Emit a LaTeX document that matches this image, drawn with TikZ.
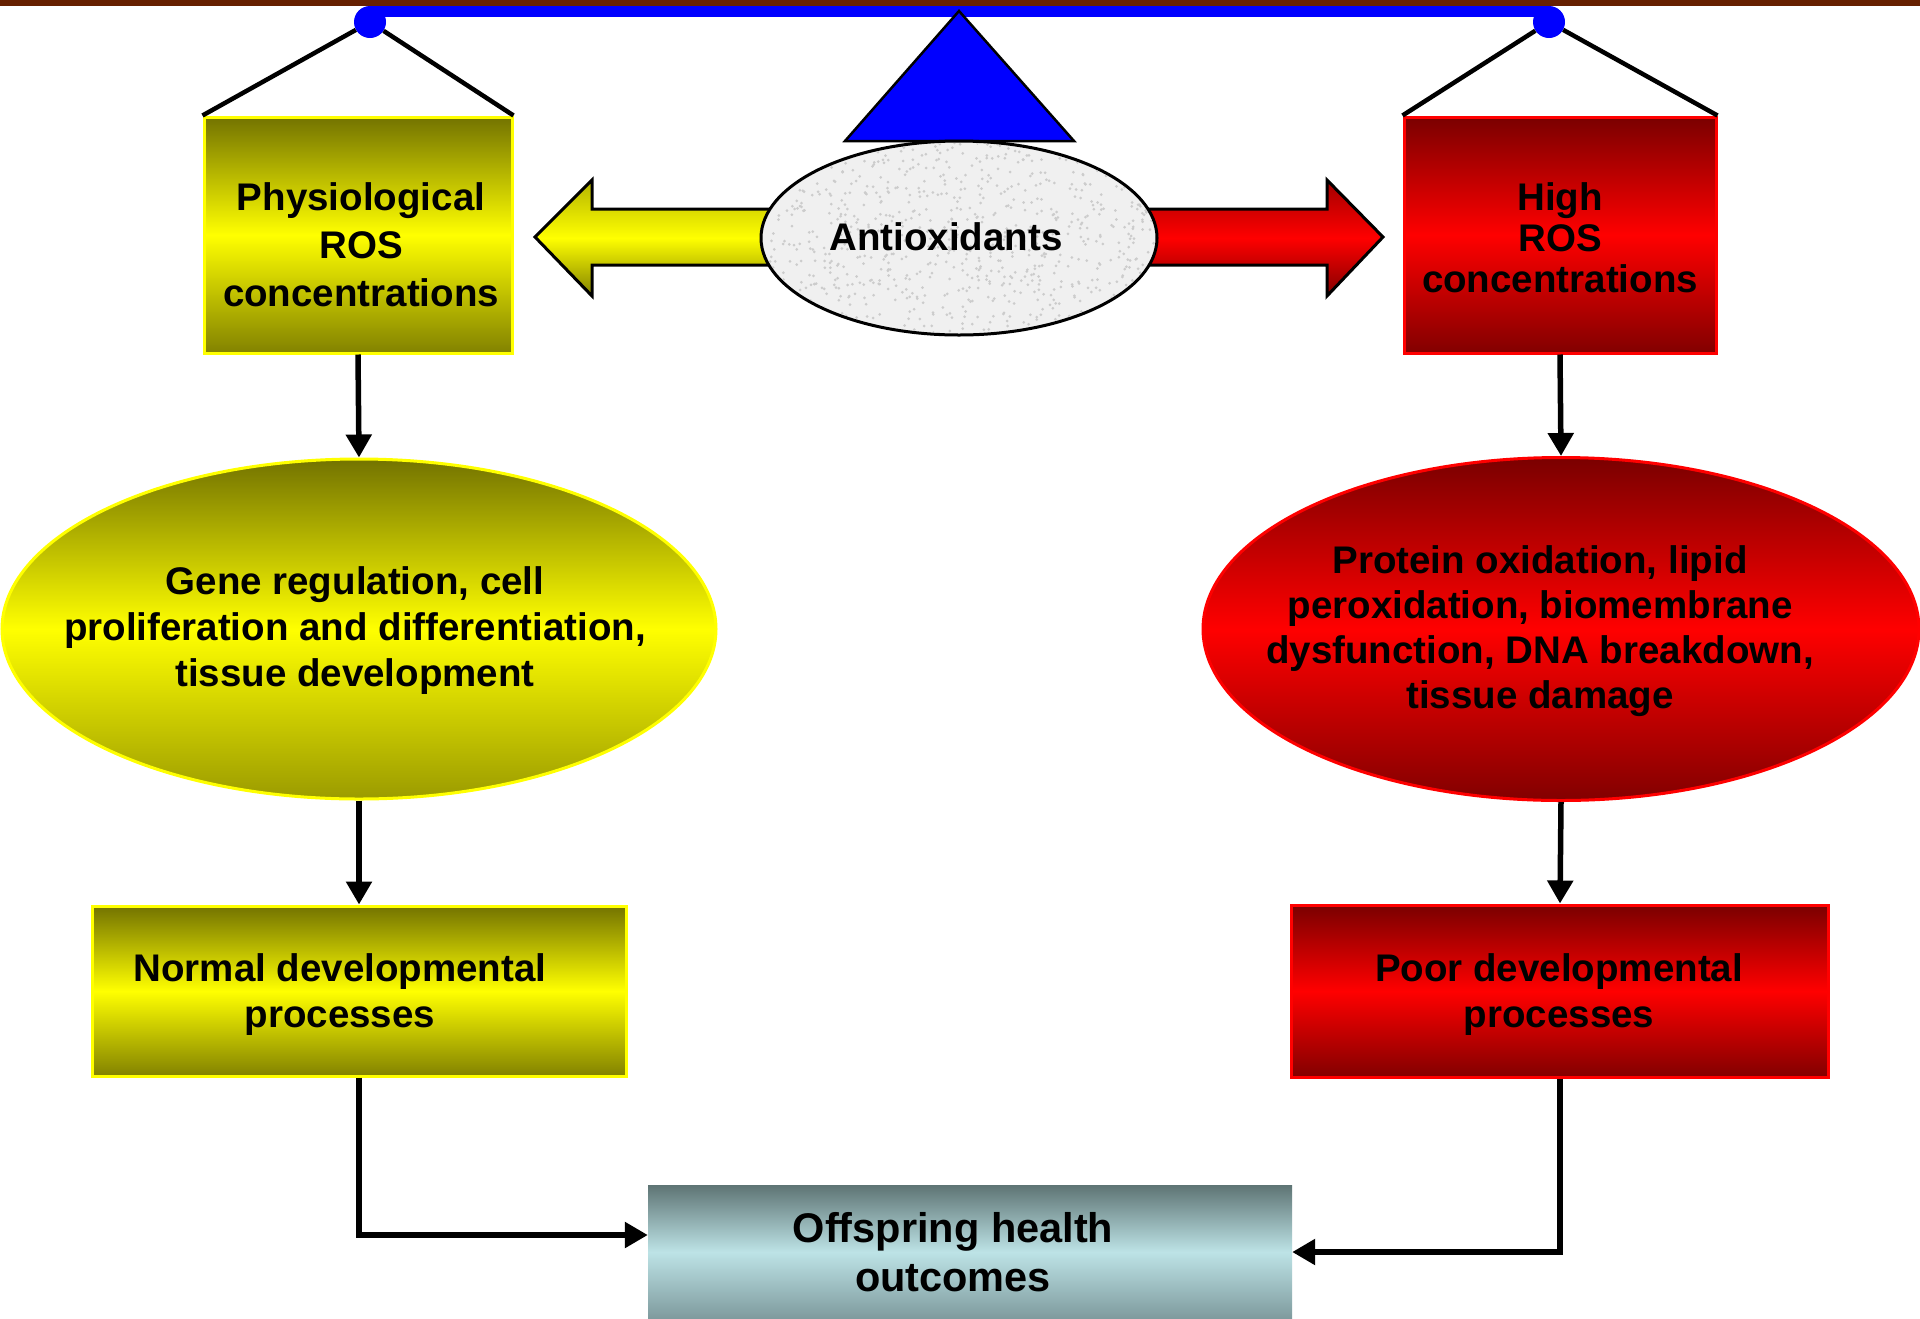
\documentclass[tikz,border=0pt]{standalone}
\usepackage{fontspec}
\setmainfont{Liberation Sans}
\usetikzlibrary{shapes.geometric,arrows.meta,calc}
\definecolor{olvtop}{HTML}{737300}
\definecolor{olvbot}{HTML}{828200}
\definecolor{ylw}{HTML}{FFFF00}
\definecolor{rdtop}{HTML}{7A0000}
\definecolor{rdbot}{HTML}{820000}
\definecolor{rd}{HTML}{FF0000}
\definecolor{tltop}{HTML}{5E7474}
\definecolor{tlmid}{HTML}{BDE3E6}
\definecolor{tlbot}{HTML}{7E9A9D}
\definecolor{brn}{HTML}{662000}
\definecolor{blu}{HTML}{0000FF}
\begin{document}
\begin{tikzpicture}[x=1pt,y=-1pt,
  lbl/.style={font=\bfseries\fontsize{38.5}{46}\selectfont, align=center, text=black, inner sep=0pt},
  ybox/.style={rectangle, draw=ylw, line width=3pt, top color=olvtop, bottom color=olvbot, middle color=ylw, inner sep=0pt},
  rbox/.style={rectangle, draw=rd, line width=3pt, top color=rdtop, bottom color=rdbot, middle color=rd, inner sep=0pt},
  yell/.style={ellipse, draw=ylw, line width=3pt, top color=olvtop, bottom color=olvbot!80!ylw, middle color=ylw, inner sep=0pt},
  rell/.style={ellipse, draw=rd, line width=3pt, top color=rdtop, bottom color=rdbot, middle color=rd, inner sep=0pt},
  conn/.style={line width=5.5pt, -{Triangle[length=23pt,width=25pt]}},
  hang/.style={line width=4.5pt, black},
  dot/.style={circle, fill=blu, minimum size=32pt, inner sep=0pt},
]
\useasboundingbox (0,0) rectangle (1920,1318);
\fill[white] (0,0) rectangle (1920,1318);
% top band
\fill[brn] (0,0) rectangle (1920,6);

% boxes
\node[ybox, minimum width=308pt, minimum height=236pt] (phys) at (358,235) {};
\node[rbox, minimum width=312pt, minimum height=236pt] (high) at (1560,235) {};

% balance
\node[dot] (dl) at (370,22) {};
\node[dot] (dr) at (1549,22) {};
\draw[blu, line width=11pt] ([yshift=10.5pt]dl.center) -- ([yshift=10.5pt]dr.center);
\draw[hang] (dl) -- (phys.north west);
\draw[hang] (dl) -- (phys.north east);
\draw[hang] (dr) -- (high.north west);
\draw[hang] (dr) -- (high.north east);
\filldraw[fill=blu, draw=black, line width=2.5pt, line join=miter] (959,11) -- (1074,141) -- (845,141) -- cycle;

% block arrows
\path[draw=black, line width=3pt, top color=olvbot!60!ylw, bottom color=olvbot, middle color=ylw]
  (800,209) -- (592,209) -- (592,180) -- (535,237) -- (592,296) -- (592,265) -- (800,265) -- cycle;
\path[draw=black, line width=3pt, top color=rdtop!70!rd, bottom color=rdbot, middle color=rd]
  (1120,209) -- (1327,209) -- (1327,180) -- (1383,237) -- (1327,296) -- (1327,265) -- (1120,265) -- cycle;

% antioxidants ellipse
\node[ellipse, draw=black, line width=3pt, fill=gray!12, minimum width=396pt, minimum height=194pt, inner sep=0pt] (anti) at (959,238) {};
\begin{scope}
\clip (959,238) ellipse [x radius=196, y radius=95];
\pgfmathsetseed{7}
\foreach \i in {1,...,900} {
  \fill[gray!40] ({959+198*rand},{238+97*rand}) circle (1.5pt);
}
\end{scope}
\node[lbl] (antiT) at (946,237) {Antioxidants};

% labels in top boxes
\node[lbl, font=\bfseries\fontsize{38.5}{48}\selectfont] (physT) at (361,245) {Physiological\\ROS\\concentrations};
\node[lbl, font=\bfseries\fontsize{38.5}{41}\selectfont] (highT) at (1560,238) {High\\ROS\\concentrations};

% ellipses
\node[yell, minimum width=714pt, minimum height=340pt] (gene) at (359,629) {};
\node[lbl] (geneT) at (355,631) {Gene regulation, cell\\proliferation and differentiation,\\tissue development};
\node[rell, minimum width=716pt, minimum height=343pt] (dmg) at (1561,629) {};
\node[lbl, font=\bfseries\fontsize{38.5}{45}\selectfont] (dmgT) at (1540,631) {Protein oxidation, lipid\\peroxidation, biomembrane\\dysfunction, DNA breakdown,\\tissue damage};

% second row boxes
\node[ybox, minimum width=534pt, minimum height=170pt] (normal) at (359,991) {};
\node[lbl] (normalT) at (340,995) {Normal developmental\\processes};
\node[rbox, minimum width=537pt, minimum height=172pt] (poor) at (1560,991) {};
\node[lbl] (poorT) at (1559,995) {Poor developmental\\processes};

% bottom box
\node[rectangle, draw=none, top color=tltop, bottom color=tlbot, middle color=tlmid, minimum width=644pt, minimum height=134pt, inner sep=0pt] (offs) at (970,1252) {};
\node[lbl, font=\bfseries\fontsize{41.5}{49}\selectfont] (offsT) at (953,1252) {Offspring health\\outcomes};

% connectors
\draw[conn] (phys.south) -- (gene.north);
\draw[conn] (gene.south) -- (normal.north);
\draw[conn] (normal.south) |- ([yshift=17pt]offs.west);
\draw[conn] (high.south) -- (dmg.north);
\draw[conn] (dmg.south) -- (poor.north);
\draw[conn] (poor.south) |- (offs.east);
\end{tikzpicture}
\end{document}
